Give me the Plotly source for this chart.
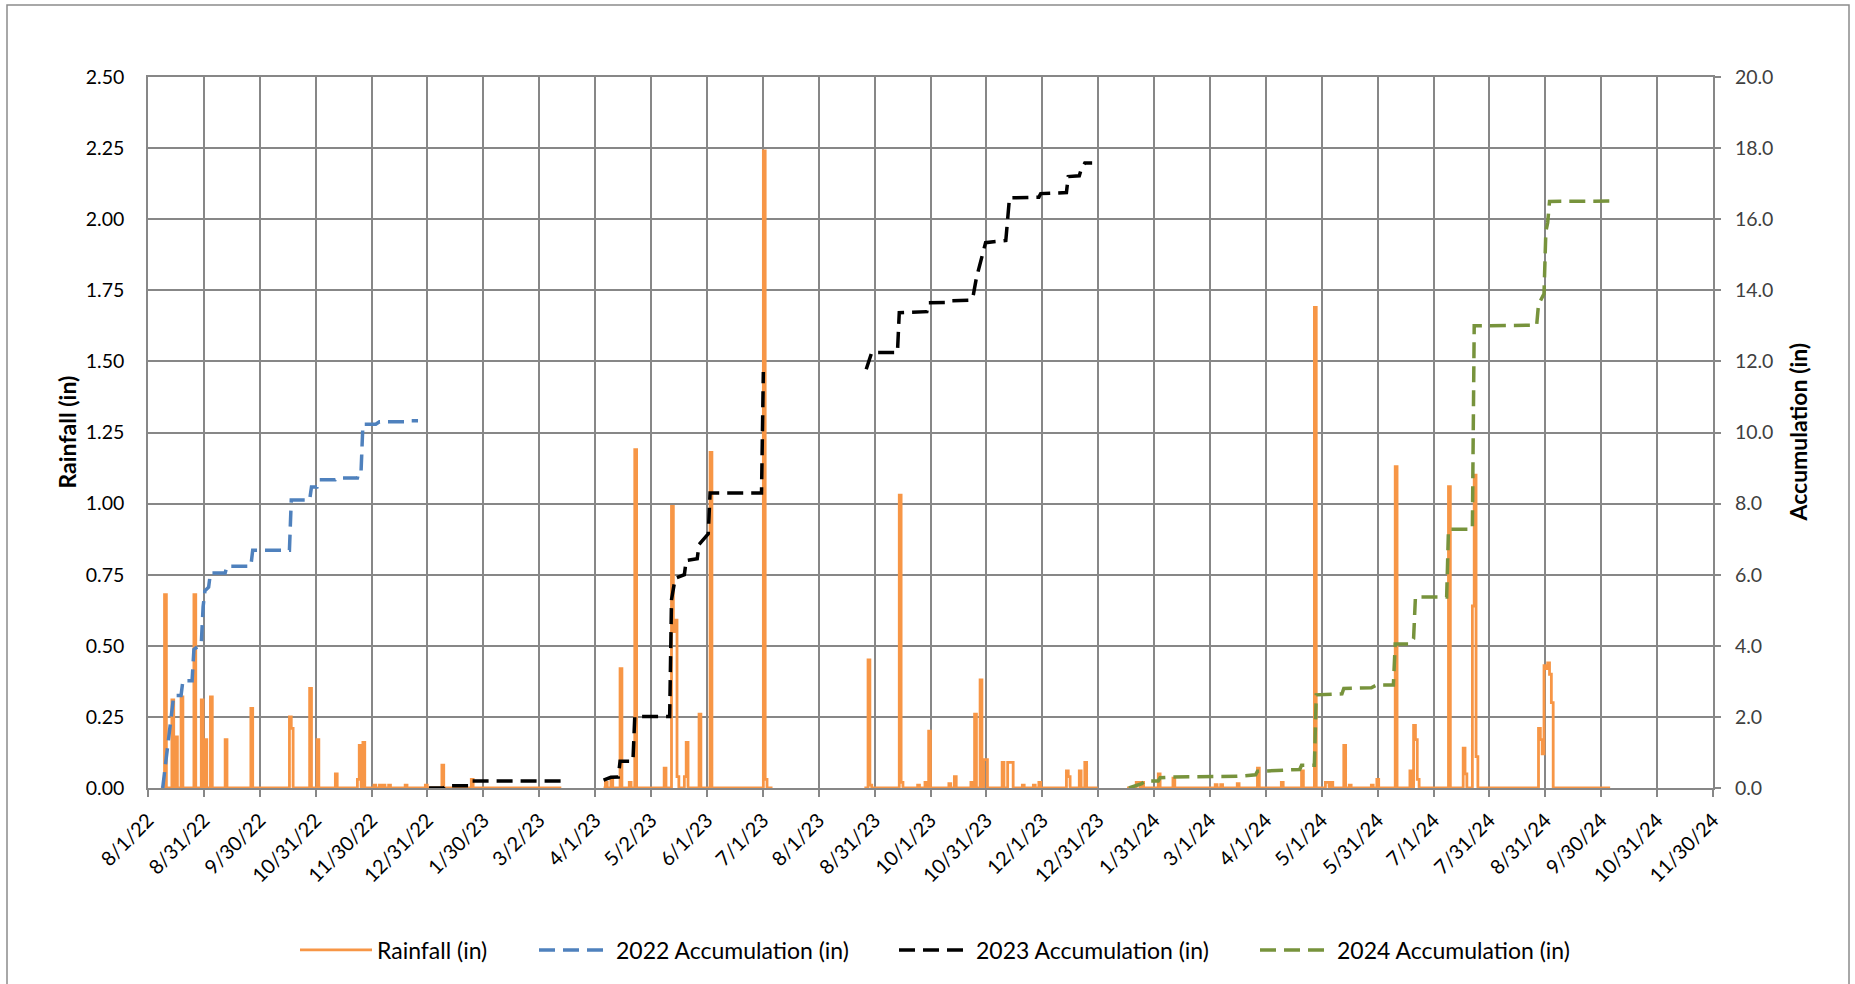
import pandas as pd
import plotly.graph_objects as go

# ---- x-axis tick labels (evenly spaced over the axis span) ----
x_tick_labels = [
    "8/1/22", "8/31/22", "9/30/22", "10/31/22", "11/30/22", "12/31/22",
    "1/30/23", "3/2/23", "4/1/23", "5/2/23", "6/1/23", "7/1/23", "8/1/23",
    "8/31/23", "10/1/23", "10/31/23", "12/1/23", "12/31/23", "1/31/24",
    "3/1/24", "4/1/24", "5/1/24", "5/31/24", "7/1/24", "7/31/24",
    "8/31/24", "9/30/24", "10/31/24", "11/30/24",
]

# ---- daily rainfall: periods with gauge records, and days with rain (in) ----
rain_periods = [
    ("2022-08-08", "2023-03-14"),
    ("2023-04-06", "2023-07-07"),
    ("2023-08-26", "2023-12-31"),
    ("2024-01-16", "2024-10-05"),
]
rain_dates = [
    "2022-08-10", "2022-08-14", "2022-08-16", "2022-08-19", "2022-08-26",
    "2022-08-30", "2022-09-01", "2022-09-04", "2022-09-12", "2022-09-26",
    "2022-10-17", "2022-10-18", "2022-10-28", "2022-11-01", "2022-11-11",
    "2022-11-23", "2022-11-24", "2022-11-26", "2022-12-02", "2022-12-05",
    "2022-12-07", "2022-12-10", "2022-12-19", "2022-12-30", "2023-01-08",
    "2023-01-24",
    "2023-04-07", "2023-04-10", "2023-04-15", "2023-04-20", "2023-04-23",
    "2023-05-09", "2023-05-13", "2023-05-14", "2023-05-15", "2023-05-16",
    "2023-05-20", "2023-05-21", "2023-05-28", "2023-06-03", "2023-07-02",
    "2023-07-03",
    "2023-08-28", "2023-08-29", "2023-09-14", "2023-09-15", "2023-09-24",
    "2023-09-28", "2023-09-30", "2023-10-11", "2023-10-14", "2023-10-23",
    "2023-10-25", "2023-10-28", "2023-10-30", "2023-10-31", "2023-11-09",
    "2023-11-12", "2023-11-13", "2023-11-14", "2023-11-20", "2023-11-26",
    "2023-11-29", "2023-12-14", "2023-12-15", "2023-12-21", "2023-12-24",
    "2024-01-21", "2024-01-22", "2024-01-24", "2024-02-02", "2024-02-10",
    "2024-03-04", "2024-03-07", "2024-03-16", "2024-03-27", "2024-04-09",
    "2024-04-20", "2024-04-27", "2024-05-03", "2024-05-04", "2024-05-06",
    "2024-05-13", "2024-05-16", "2024-05-28", "2024-05-31", "2024-06-10",
    "2024-06-18", "2024-06-20", "2024-06-21", "2024-06-22", "2024-07-09",
    "2024-07-17", "2024-07-18", "2024-07-22", "2024-07-23", "2024-07-24",
    "2024-08-27", "2024-08-28", "2024-08-29", "2024-08-30", "2024-08-31",
    "2024-09-01", "2024-09-02", "2024-09-03",
]
rain_values = [
    0.68, 0.31, 0.18, 0.32, 0.68,
    0.31, 0.17, 0.32, 0.17, 0.28,
    0.25, 0.21, 0.35, 0.17, 0.05,
    0.03, 0.15, 0.16, 0.01, 0.01,
    0.01, 0.01, 0.01, 0.01, 0.08,
    0.03,
    0.02, 0.03, 0.42, 0.02, 1.19,
    0.07, 0.99, 0.55, 0.59, 0.04,
    0.04, 0.16, 0.26, 1.18, 2.24,
    0.03,
    0.45, 0.01, 1.03, 0.02, 0.01,
    0.02, 0.20, 0.015, 0.04, 0.02,
    0.26, 0.38, 0.10, 0.10, 0.09,
    0.09, 0.09, 0.09, 0.01, 0.01,
    0.02, 0.06, 0.04, 0.06, 0.09,
    0.02, 0.02, 0.02, 0.05, 0.035,
    0.012, 0.012, 0.015, 0.07, 0.02,
    0.06, 1.69, 0.02, 0.02, 0.02,
    0.15, 0.01, 0.01, 0.03, 1.13,
    0.06, 0.22, 0.17, 0.03, 1.06,
    0.14, 0.05, 0.64, 1.10, 0.11,
    0.21, 0.17, 0.12, 0.43, 0.42,
    0.44, 0.40, 0.30,
]

# ---- yearly accumulation (in); None marks a break in the record ----
acc2022_dates = [
    "2022-08-09", "2022-08-15", "2022-08-19", "2022-08-20", "2022-08-25",
    "2022-08-26", "2022-08-30", "2022-08-31", "2022-09-01", "2022-09-03",
    "2022-09-04", "2022-09-12", "2022-09-13", "2022-09-26", "2022-09-27",
    "2022-10-17", "2022-10-18", "2022-10-28", "2022-10-29", "2022-11-01",
    "2022-11-02", "2022-11-11", "2022-11-12", "2022-11-23", "2022-11-24",
    "2022-11-25", "2022-11-26", "2022-12-03", "2022-12-05", "2022-12-19",
    "2022-12-20", "2022-12-26",
]
acc2022_values = [
    0.00, 2.60, 2.60, 3.02, 3.02,
    3.90, 4.05, 5.10, 5.55, 5.65,
    6.05, 6.05, 6.24, 6.24, 6.69,
    6.69, 8.10, 8.10, 8.47, 8.47,
    8.67, 8.67, 8.72, 8.72, 8.92,
    8.92, 10.23, 10.23, 10.30, 10.30,
    10.33, 10.33,
]

acc2023_dates = [
    "2023-01-01", "2023-01-09", "2023-01-10", "2023-01-23", "2023-01-24",
    "2023-03-14", "2023-03-15",
    "2023-04-06", "2023-04-10", "2023-04-14", "2023-04-15", "2023-04-22",
    "2023-04-23", "2023-05-12", "2023-05-13", "2023-05-15", "2023-05-20",
    "2023-05-21", "2023-05-27", "2023-05-28", "2023-06-01", "2023-06-02",
    "2023-06-03", "2023-07-01", "2023-07-02", "2023-07-03",
    "2023-08-27", "2023-08-29", "2023-08-30", "2023-09-13", "2023-09-14",
    "2023-09-29", "2023-09-30", "2023-10-09", "2023-10-10", "2023-10-22",
    "2023-10-24", "2023-10-26", "2023-10-28", "2023-10-30", "2023-10-31",
    "2023-11-11", "2023-11-13", "2023-11-29", "2023-11-30", "2023-12-14",
    "2023-12-15", "2023-12-21", "2023-12-22", "2023-12-24", "2023-12-28",
]
acc2023_values = [
    0.00, 0.00, 0.06, 0.06, 0.20,
    0.20, None,
    0.22, 0.30, 0.31, 0.75, 0.75,
    2.01, 2.01, 5.30, 5.90, 6.00,
    6.40, 6.45, 6.85, 7.10, 7.15,
    8.30, 8.30, 11.70, None,
    11.78, 12.05, 12.25, 12.25, 13.37,
    13.40, 13.65, 13.66, 13.70, 13.72,
    13.78, 14.35, 14.75, 15.20, 15.34,
    15.40, 16.60, 16.62, 16.72, 16.75,
    17.20, 17.22, 17.40, 17.58, 17.58,
]

acc2024_dates = [
    "2024-01-17", "2024-01-24", "2024-01-26", "2024-02-02", "2024-02-03",
    "2024-02-10", "2024-03-16", "2024-03-26", "2024-03-27", "2024-04-09",
    "2024-04-19", "2024-04-20", "2024-04-27", "2024-04-28", "2024-05-12",
    "2024-05-13", "2024-05-28", "2024-05-31", "2024-06-09", "2024-06-10",
    "2024-06-18", "2024-06-20", "2024-06-21", "2024-07-08", "2024-07-09",
    "2024-07-22", "2024-07-23", "2024-08-26", "2024-08-27", "2024-08-30",
    "2024-08-31", "2024-09-01", "2024-09-02", "2024-10-05",
]
acc2024_values = [
    0.00, 0.12, 0.20, 0.20, 0.29,
    0.31, 0.33, 0.37, 0.47, 0.49,
    0.52, 0.64, 0.64, 2.62, 2.65,
    2.80, 2.82, 2.90, 2.90, 4.05,
    4.05, 4.20, 5.37, 5.37, 7.28,
    7.28, 13.00, 13.02, 13.60, 13.90,
    15.65, 15.90, 16.50, 16.51,
]

# ---- styling ----
ORANGE = "#F79646"
BLUE = "#4F81BD"
BLACK = "#000000"
GREEN = "#77933C"
GRID = "#878787"
FONT = "Lato"

# Build the continuous daily rainfall line (dry days = 0, gaps between periods)
events = dict(zip(pd.to_datetime(rain_dates), rain_values))
rain_x, rain_y = [], []
for start, end in rain_periods:
    for day in pd.date_range(start, end, freq="D"):
        rain_x.append(day)
        rain_y.append(events.get(day, 0.0))
    rain_x.append(pd.Timestamp(end) + pd.Timedelta(days=1))
    rain_y.append(None)

axis_start = pd.Timestamp("2022-08-01")
axis_end = pd.Timestamp("2024-11-30")
tick_step = (axis_end - axis_start) / (len(x_tick_labels) - 1)
tick_positions = [axis_start + i * tick_step for i in range(len(x_tick_labels))]

dash = "16px,8px"
fig = go.Figure()
fig.add_trace(go.Scatter(
    x=rain_x, y=rain_y, name="Rainfall (in)", mode="lines", legend="legend",
    line=dict(color=ORANGE, width=2.8, shape="hv"), connectgaps=False,
))
fig.add_trace(go.Scatter(
    x=pd.to_datetime(acc2022_dates), y=acc2022_values, name="2022 Accumulation (in)",
    mode="lines", line=dict(color=BLUE, width=3.5, dash=dash), yaxis="y2",
    legend="legend2",
))
fig.add_trace(go.Scatter(
    x=pd.to_datetime(acc2023_dates), y=acc2023_values, name="2023 Accumulation (in)",
    mode="lines", line=dict(color=BLACK, width=3.5, dash=dash), yaxis="y2",
    connectgaps=False, legend="legend3",
))
fig.add_trace(go.Scatter(
    x=pd.to_datetime(acc2024_dates), y=acc2024_values, name="2024 Accumulation (in)",
    mode="lines", line=dict(color=GREEN, width=3.5, dash=dash), yaxis="y2",
    legend="legend4",
))

W, H = 1855, 984
ML, MR, MT, MB = 148, 142, 77, 196
PW, PH = W - ML - MR, H - MT - MB


def px_x(p):
    return (p - ML) / PW


def px_y(p):
    return (H - MB - p) / PH


def legend_at(left_px):
    return dict(
        orientation="h", x=px_x(left_px), xanchor="left", y=px_y(950), yanchor="middle",
        font=dict(family=FONT, size=23, color="black"), bgcolor="rgba(0,0,0,0)",
        itemwidth=72,
    )


fig.update_layout(
    width=W, height=H,
    margin=dict(l=ML, r=MR, t=MT, b=MB, pad=0),
    paper_bgcolor="white", plot_bgcolor="white",
    font=dict(family=FONT, color="black"),
    showlegend=True,
    legend=legend_at(295),
    legend2=legend_at(534),
    legend3=legend_at(894),
    legend4=legend_at(1255),
    xaxis=dict(
        type="date", range=[axis_start, axis_end],
        tickmode="array", tickvals=tick_positions, ticktext=x_tick_labels,
        tickangle=-45, tickfont=dict(family=FONT, size=20, color="black"),
        showgrid=True, gridcolor=GRID, gridwidth=1.5,
        ticks="outside", ticklen=7, tickcolor=GRID, tickwidth=1.5,
        showline=True, linecolor=GRID, linewidth=1.5, mirror=True,
        zeroline=False, ticklabelstandoff=4,
    ),
    yaxis=dict(
        range=[0, 2.5], tick0=0, dtick=0.25, tickformat=".2f",
        tickfont=dict(family=FONT, size=19.5, color="black"),
        showgrid=True, gridcolor=GRID, gridwidth=1.5,
        showline=True, linecolor=GRID, linewidth=1.5, mirror=True,
        zeroline=False, ticks="", ticklabelstandoff=18,
    ),
    yaxis2=dict(
        range=[0, 20], tick0=0, dtick=2, tickformat=".1f", overlaying="y", side="right",
        tickfont=dict(family=FONT, size=19.5, color="#404040"),
        showgrid=False, zeroline=False, showline=False,
        ticks="outside", ticklen=7, tickcolor=GRID, tickwidth=1.5,
        ticklabelstandoff=10,
    ),
    annotations=[
        dict(text="<b>Rainfall (in)</b>", xref="paper", yref="paper",
             x=px_x(66), y=0.5, xanchor="center", yanchor="middle", textangle=-90,
             showarrow=False, font=dict(family=FONT, size=23, color="black")),
        dict(text="<b>Accumulation (in)</b>", xref="paper", yref="paper",
             x=px_x(1797), y=0.5, xanchor="center", yanchor="middle", textangle=-90,
             showarrow=False, font=dict(family=FONT, size=23, color="black")),
    ],
    shapes=[
        dict(type="rect", xref="paper", yref="paper",
             x0=px_x(7), x1=px_x(1849), y0=px_y(995), y1=px_y(5),
             line=dict(color="#8c8c8c", width=1.5), fillcolor="rgba(0,0,0,0)",
             layer="below"),
    ],
)

fig.write_html("out.html")
